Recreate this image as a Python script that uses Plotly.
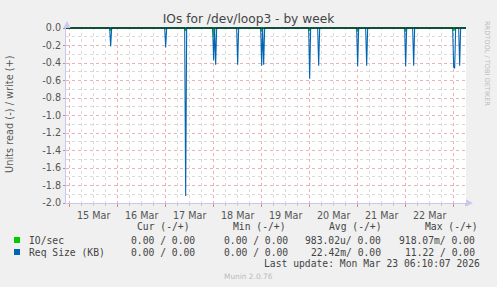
import pandas as pd
import plotly.graph_objects as go

# ---------------- data ----------------
title_text = "IOs for /dev/loop3 - by week"
y_title = "Units read (-) / write (+)"
range_start = "2026-03-14 22:10:07"
range_end = "2026-03-23 06:10:07"
sample_start = "2026-03-14 22:00"
sample_end = "2026-03-23 06:30"

# Req Size (KB), read side (plotted negative)
req_times = ["2026-03-15 20:30", "2026-03-17 00:00", "2026-03-17 10:00",
             "2026-03-18 00:00", "2026-03-18 01:00", "2026-03-18 12:00",
             "2026-03-19 00:00", "2026-03-19 01:00", "2026-03-20 00:00",
             "2026-03-20 04:30", "2026-03-21 00:00", "2026-03-21 04:30",
             "2026-03-22 00:00", "2026-03-22 04:00", "2026-03-23 00:00",
             "2026-03-23 00:30", "2026-03-23 03:00"]
req_read = [-0.21, -0.22, -1.92,
            -0.37, -0.42, -0.42,
            -0.43, -0.42, -0.58,
            -0.43, -0.44, -0.43,
            -0.44, -0.43, -0.45,
            -0.46, -0.43]

# IO/sec, read side (plotted negative)
io_times = ["2026-03-15 20:30", "2026-03-17 10:00", "2026-03-18 00:00",
            "2026-03-19 00:00", "2026-03-20 00:00", "2026-03-21 00:00",
            "2026-03-22 00:00", "2026-03-23 00:00"]
io_read = [-0.03, -0.03, -0.10, -0.04, -0.03, -0.04, -0.04, -0.03]

y_tick_vals = [0.0, -0.2, -0.4, -0.6, -0.8, -1.0, -1.2, -1.4, -1.6, -1.8, -2.0]
y_tick_text = ["0.0", "-0.2", "-0.4", "-0.6", "-0.8", "-1.0", "-1.2", "-1.4",
               "-1.6", "-1.8", "-2.0"]

series_names = ["IO/sec", "Req Size (KB)"]
series_colors = ["#00CC00", "#0066B3"]
legend_headers = ["Cur (-/+)", "Min (-/+)", "Avg (-/+)", "Max (-/+)"]
io_stats = ["0.00 / 0.00", "0.00 / 0.00", "983.02u/ 0.00", "918.07m/ 0.00"]
req_stats = ["0.00 / 0.00", "0.00 / 0.00", "22.42m/ 0.00", "11.22 / 0.00"]
last_update = "Last update: Mon Mar 23 06:10:07 2026"
footer = "Munin 2.0.76"
side_text = "RRDTOOL / TOBI OETIKER"

# ---------------- build series ----------------
grid = pd.date_range(sample_start, sample_end, freq="30min")
req_s = pd.Series(0.0, index=grid)
req_s.loc[pd.to_datetime(req_times)] = req_read
io_s = pd.Series(0.0, index=grid)
io_s.loc[pd.to_datetime(io_times)] = io_read

# ---------------- geometry ----------------
W, H = 497, 287
L, R, T, B = 66, 466, 27, 203


def xp(px):
    return (px - L) / (R - L)


def yp(py):
    return (B - py) / (B - T)


fig = go.Figure()
fig.add_trace(go.Scatter(x=io_s.index, y=io_s.values, mode="lines",
                         line=dict(color=series_colors[0], width=1.6),
                         showlegend=False, hoverinfo="skip"))
fig.add_trace(go.Scatter(x=req_s.index, y=req_s.values, mode="lines",
                         line=dict(color=series_colors[1], width=1.1),
                         showlegend=False, hoverinfo="skip"))

tick_font = dict(family="DejaVu Sans", size=9.6, color="#555555")
mono = dict(family="DejaVu Sans Mono", size=9.7, color="#444444")
major_grid = "#EAB2B2"
minor_grid = "#DADADA"
dots = "dot"

fig.update_layout(
    width=W, height=H,
    margin=dict(l=L, r=W - R, t=T, b=H - B),
    paper_bgcolor="#F0F0F0",
    plot_bgcolor="#FFFFFF",
    showlegend=False,
    title=dict(text=title_text, x=0.5, xanchor="center", xref="container",
               y=1 - 19 / H, yanchor="middle", yref="container",
               font=dict(family="DejaVu Sans", size=12.2, color="#444444")),
    xaxis=dict(
        type="date", range=[range_start, range_end],
        tick0="2026-03-15", dtick=86400000,
        ticklabelmode="period", tickformat="%d %b",
        tickfont=tick_font,
        showgrid=True, gridcolor=major_grid, griddash=dots, gridwidth=1,
        minor=dict(dtick=6 * 3600000, showgrid=True, gridcolor=minor_grid,
                   griddash=dots, ticks="outside", ticklen=2,
                   tickcolor="#C8C8C8"),
        ticks="outside", ticklen=3, tickcolor="#E08080",
        showline=True, linecolor="#C8C8EE", linewidth=1,
        zeroline=False, fixedrange=True,
    ),
    yaxis=dict(
        range=[-2.0, 0.0114],
        tickvals=y_tick_vals, ticktext=y_tick_text,
        tickfont=tick_font,
        showgrid=True, gridcolor=major_grid, griddash=dots, gridwidth=1,
        minor=dict(dtick=0.1, tick0=0, showgrid=True, gridcolor=minor_grid,
                   griddash=dots),
        ticks="outside", ticklen=2, tickcolor="#E08080",
        showline=True, linecolor="#C8C8EE", linewidth=1,
        zeroline=False, fixedrange=True,
    ),
)

# zero rule
fig.add_shape(type="line", xref="paper", yref="y", x0=0, x1=1, y0=0, y1=0,
              line=dict(color="#000000", width=1))

# axis arrows
arrow_color = "#C8C8EE"
fig.add_shape(type="path", xref="paper", yref="paper",
              path=f"M {xp(63.5)} {yp(28)} L {xp(70.5)} {yp(28)} L {xp(67)} {yp(21)} Z",
              fillcolor=arrow_color, line=dict(width=0))
fig.add_shape(type="path", xref="paper", yref="paper",
              path=f"M {xp(466)} {yp(199.5)} L {xp(466)} {yp(206.5)} L {xp(473)} {yp(203)} Z",
              fillcolor=arrow_color, line=dict(width=0))

ann = []
# y-axis title
ann.append(dict(text=y_title, x=xp(10), y=yp(114), xref="paper", yref="paper",
                textangle=-90, showarrow=False, xanchor="center", yanchor="middle",
                font=dict(family="DejaVu Sans", size=9.8, color="#555555")))
# side text
ann.append(dict(text=side_text, x=xp(487), y=yp(63), xref="paper", yref="paper",
                textangle=90, showarrow=False, xanchor="center", yanchor="middle",
                font=dict(family="DejaVu Sans", size=6.6, color="#BBBBBB")))

# legend headers (left edges)
header_left = [135, 231, 327, 423]
for txt, x0 in zip(legend_headers, header_left):
    ann.append(dict(text=txt, x=xp(x0), y=yp(227), xref="paper", yref="paper",
                    showarrow=False, xanchor="left", yanchor="middle", font=mono))

col_right = [197, 290, 383, 477]
rows_y = [240, 252]
for name, color, stats, ry in zip(series_names, series_colors,
                                  [io_stats, req_stats], rows_y):
    fig.add_shape(type="rect", xref="paper", yref="paper",
                  x0=xp(14), x1=xp(20), y0=yp(ry - 3), y1=yp(ry + 3),
                  fillcolor=color, line=dict(width=0))
    ann.append(dict(text=name, x=xp(27), y=yp(ry), xref="paper", yref="paper",
                    showarrow=False, xanchor="left", yanchor="middle", font=mono))
    for txt, xr in zip(stats, col_right):
        ann.append(dict(text=txt, x=xp(xr), y=yp(ry), xref="paper", yref="paper",
                        showarrow=False, xanchor="right", yanchor="middle", font=mono))

ann.append(dict(text=last_update, x=xp(482), y=yp(263), xref="paper", yref="paper",
                showarrow=False, xanchor="right", yanchor="middle", font=mono))
ann.append(dict(text=footer, x=xp(248), y=yp(276), xref="paper", yref="paper",
                showarrow=False, xanchor="center", yanchor="middle",
                font=dict(family="DejaVu Sans", size=7.4, color="#BBBBBB")))

fig.update_layout(annotations=ann)
fig.write_html("out.html")
